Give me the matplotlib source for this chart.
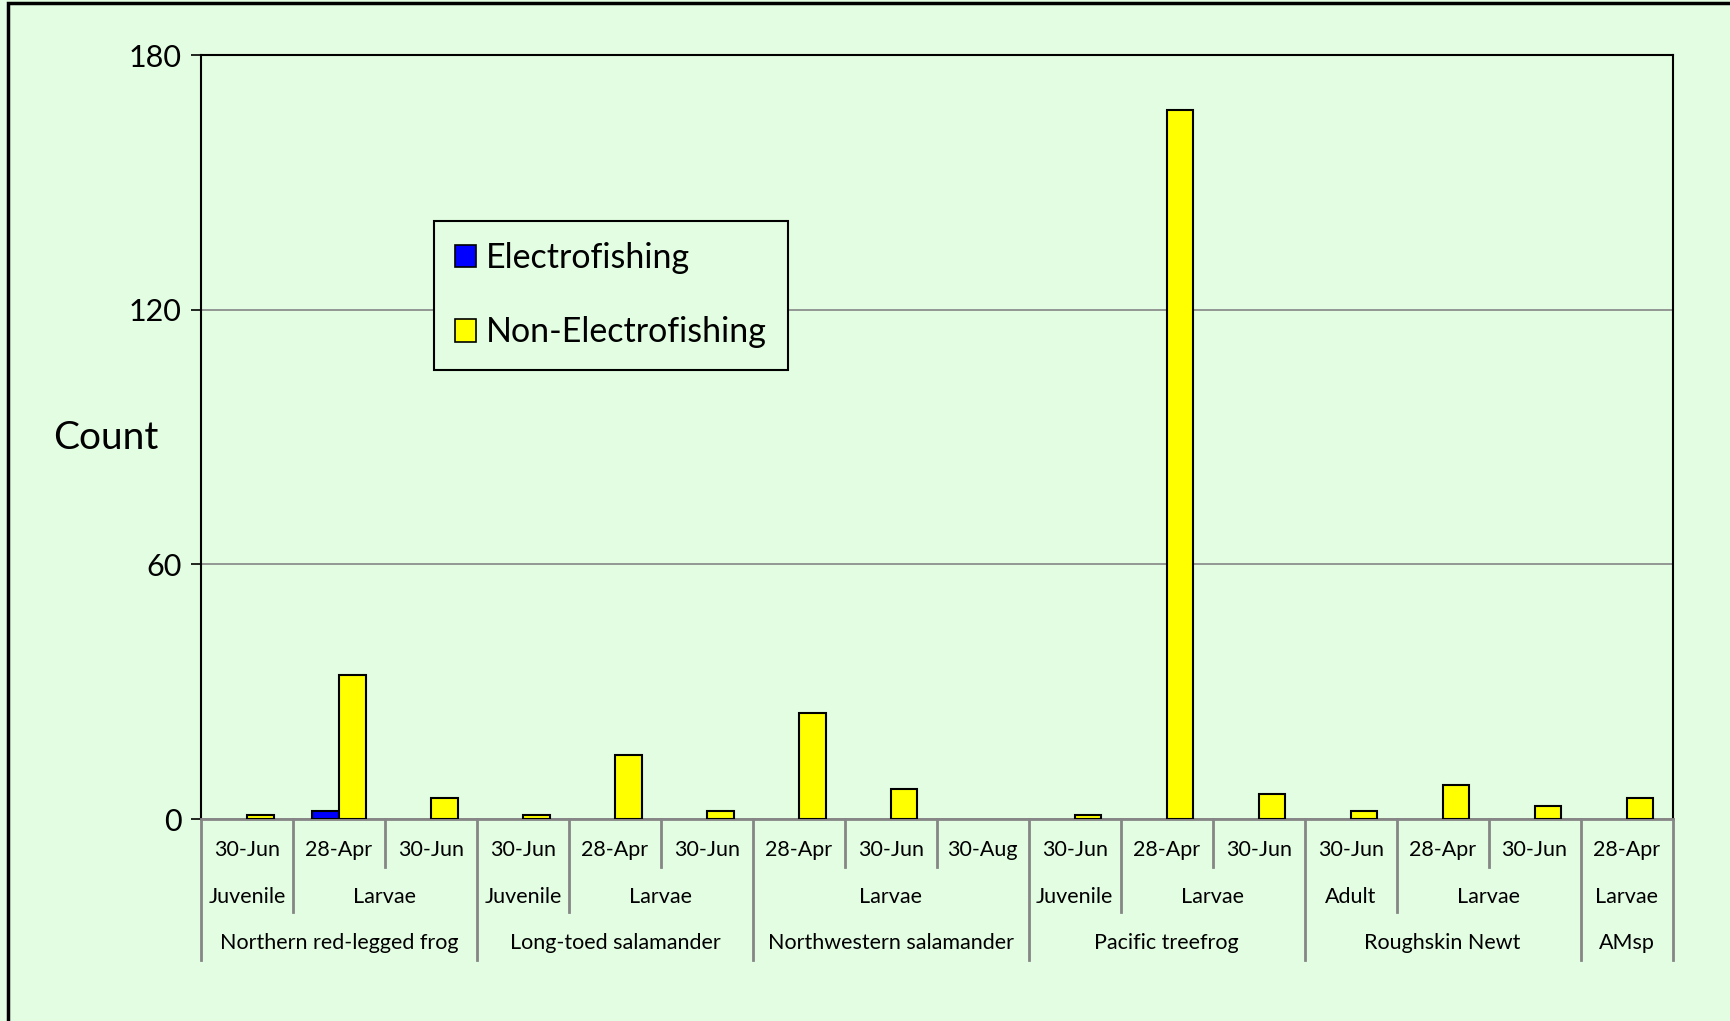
import matplotlib
matplotlib.use("Agg")
import matplotlib.pyplot as plt
from matplotlib.patches import Rectangle, Patch

plt.rcParams['font.family'] = ['Lato', 'DejaVu Sans']

# categories (lowest level first)
dates = ["30-Jun", "28-Apr", "30-Jun", "30-Jun", "28-Apr", "30-Jun",
         "28-Apr", "30-Jun", "30-Aug", "30-Jun", "28-Apr", "30-Jun",
         "30-Jun", "28-Apr", "30-Jun", "28-Apr"]
stages = ["Juvenile", "Larvae", "Larvae", "Juvenile", "Larvae", "Larvae",
          "Larvae", "Larvae", "Larvae", "Juvenile", "Larvae", "Larvae",
          "Adult", "Larvae", "Larvae", "Larvae"]
species = ["Northern red-legged frog"] * 3 + ["Long-toed salamander"] * 3 + \
          ["Northwestern salamander"] * 3 + ["Pacific treefrog"] * 3 + \
          ["Roughskin Newt"] * 3 + ["AMsp"]

electro = [0, 2, 0, 0, 0, 0, 0, 0, 0, 0, 0, 0, 0, 0, 0, 0]
non_electro = [1, 34, 5, 1, 15, 2, 25, 7, 0, 1, 167, 6, 2, 8, 3, 5]

bg = "#E2FDE2"
fig = plt.figure(figsize=(17.3, 10.21), dpi=100, facecolor=bg)
ax = fig.add_axes([0.1162, 0.1978, 0.8506, 0.7483])
ax.set_facecolor(bg)

# outer chart border
fig.patches.append(Rectangle((0.0045, -0.01), 1.2, 1.007, transform=fig.transFigure,
                             fill=False, edgecolor="black", linewidth=2.5))

x = list(range(len(dates)))
w = 0.29
ax.bar([i - w / 2 for i in x], electro, width=w, color="#0000FF",
       edgecolor="black", linewidth=[1.5 if v else 0 for v in electro], zorder=3)
ax.bar([i + w / 2 for i in x], non_electro, width=w, color="#FFFF00",
       edgecolor="black", linewidth=[1.5 if v else 0 for v in non_electro], zorder=3)

ax.set_xlim(-0.5, len(dates) - 0.5)
ax.set_ylim(0, 180)
ax.set_yticks([0, 60, 120, 180])
ax.tick_params(axis="y", labelsize=22, length=7, width=1.2, pad=7)
ax.set_xticks([])
ax.yaxis.grid(True, color="#868686", linewidth=1.2)
ax.set_axisbelow(True)
for s in ["left", "top", "right"]:
    ax.spines[s].set_color("black")
    ax.spines[s].set_linewidth(1.5)
ax.spines["bottom"].set_color("#868686")
ax.spines["bottom"].set_linewidth(2)

ax.set_ylabel("Count", fontsize=28, rotation=0, labelpad=0)
ax.yaxis.set_label_coords(-0.065, 0.475)

# multi-level category axis
tr = ax.get_xaxis_transform()
y_rows = [0, -0.0628, -0.1217, -0.1846]
y_text = [-0.0406, -0.1021, -0.1623]
sep_kw = dict(color="#868686", linewidth=2, transform=tr, clip_on=False)
fs = 15.5

n = len(dates)
for i in range(n):
    ax.text(i, y_text[0], dates[i], transform=tr, ha="center", va="center", fontsize=fs)

def runs(keys):
    out = []
    start = 0
    for i in range(1, n + 1):
        if i == n or keys[i] != keys[start]:
            out.append((start, i))
            start = i
    return out

stage_runs = runs(list(zip(species, stages)))
species_runs = runs(species)

for a, b in stage_runs:
    ax.text((a + b - 1) / 2, y_text[1], stages[a], transform=tr, ha="center",
            va="center", fontsize=fs)
for a, b in species_runs:
    ax.text((a + b - 1) / 2, y_text[2], species[a], transform=tr, ha="center",
            va="center", fontsize=fs)

bounds = {}
for i in range(n + 1):
    bounds[i] = y_rows[1]
for a, b in stage_runs:
    bounds[a] = min(bounds[a], y_rows[2])
    bounds[b] = min(bounds[b], y_rows[2])
for a, b in species_runs:
    bounds[a] = y_rows[3]
    bounds[b] = y_rows[3]
for i, yb in bounds.items():
    ax.plot([i - 0.5, i - 0.5], [0, yb], **sep_kw)

handles = [Patch(facecolor="#0000FF", edgecolor="black", linewidth=1.2),
           Patch(facecolor="#FFFF00", edgecolor="black", linewidth=1.2)]
leg = ax.legend(handles, ["Electrofishing", "Non-Electrofishing"],
                loc="upper left", bbox_to_anchor=(0.158, 0.783), fontsize=24.5,
                frameon=True, fancybox=False, edgecolor="black", facecolor=bg,
                framealpha=1, handlelength=0.62, handleheight=0.62, handletextpad=0.3,
                labelspacing=1.25, borderpad=0.62, borderaxespad=0)
leg.get_frame().set_linewidth(1.5)

fig.savefig("out.png", dpi=100, facecolor=bg)
